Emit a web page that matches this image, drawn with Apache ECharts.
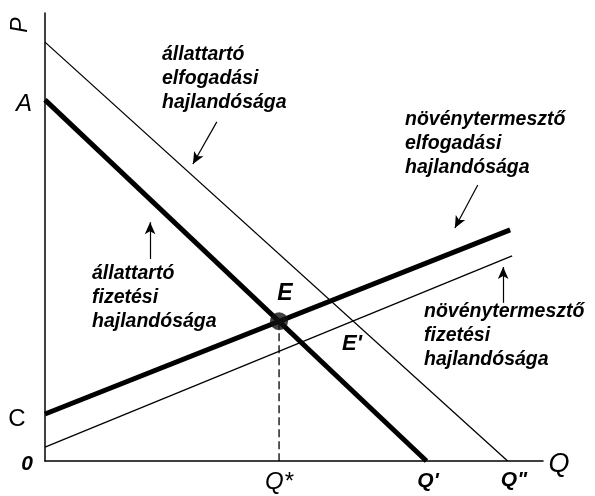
<!DOCTYPE html>
<html>
<head>
<meta charset="utf-8">
<script src="https://cdn.jsdelivr.net/npm/echarts@6/dist/echarts.min.js"></script>
<style>
  html, body { margin: 0; padding: 0; background: #fff; }
  #chart { width: 595px; height: 496px; }
</style>
</head>
<body>
<div id="chart"></div>
<script>
// line endpoints in data units (x: Q, y: P)
var thickDemand = [[0, 8.06], [7.66, 0]];
var thinDemand = [[0, 9.35], [9.29, 0]];
var thickSupply = [[0, 1.05], [9.34, 5.16]];
var thinSupply = [[0, 0.31], [9.38, 4.58]];
var equilibrium = [[4.70, 3.12]];
var qStar = [[4.70, 3.12], [4.70, 0]];

// annotation arrows: [from, to]
var arrows = [
  [[3.45, 7.57], [2.97, 6.63]],
  [[8.69, 6.16], [8.23, 5.20]],
  [[2.11, 4.51], [2.11, 5.33]],
  [[9.20, 3.53], [9.20, 4.33]]
];

var notes = [
  ['állattartó', 'elfogadási', 'hajlandósága'],
  ['növénytermesztő', 'elfogadási', 'hajlandósága'],
  ['állattartó', 'fizetési', 'hajlandósága'],
  ['növénytermesztő', 'fizetési', 'hajlandósága']
];

var chart = echarts.init(document.getElementById('chart'), null, { renderer: 'canvas' });

var noteFont = 'italic bold 19.5px "Liberation Sans", Arial, sans-serif';
var notePos = [[162, 43], [405, 108], [92, 262], [424, 300]];

function lineSeries(data, width) {
  return {
    type: 'line',
    data: data,
    symbol: 'none',
    lineStyle: { color: '#000', width: width },
    silent: true,
    z: 3
  };
}

var graphics = notes.map(function (lines, i) {
  return {
    type: 'text',
    x: notePos[i][0],
    y: notePos[i][1],
    style: {
      text: lines.join('\n'),
      font: noteFont,
      lineHeight: 24,
      fill: '#000',
      align: 'left',
      verticalAlign: 'top'
    }
  };
});

function label(text, x, y, font, rot) {
  return {
    type: 'text',
    x: x,
    y: y,
    rotation: rot || 0,
    style: {
      text: text,
      font: font,
      fill: '#000',
      align: 'center',
      verticalAlign: 'middle'
    }
  };
}

var reg = '"Liberation Sans", Arial, sans-serif';
graphics.push(
  label('P', 21, 25, 'italic 23px ' + reg, Math.PI / 2),
  label('A', 24, 104, 'italic 24px ' + reg),
  label('C', 17, 419, '24px ' + reg),
  label('0', 27, 464, 'italic bold 21px ' + reg),
  label('E', 285, 294, 'italic bold 23px ' + reg),
  label("E'", 352, 344, 'italic bold 22px ' + reg),
  label('Q*', 279, 482, 'italic 24px ' + reg),
  label("Q'", 428, 481, 'italic bold 21px ' + reg),
  label('Q"', 514, 480, 'italic bold 21px ' + reg),
  label('Q', 559, 464, 'italic 27px ' + reg)
);

chart.setOption({
  backgroundColor: '#ffffff',
  animation: false,
  grid: { left: 45, right: 52, top: 13, bottom: 35 },
  xAxis: {
    type: 'value',
    min: 0,
    max: 10,
    axisLine: { show: true, lineStyle: { color: '#000', width: 1.5 } },
    axisTick: { show: false },
    axisLabel: { show: false },
    splitLine: { show: false }
  },
  yAxis: {
    type: 'value',
    min: 0,
    max: 10,
    axisLine: { show: true, lineStyle: { color: '#000', width: 1.5 } },
    axisTick: { show: false },
    axisLabel: { show: false },
    splitLine: { show: false }
  },
  series: [
    lineSeries(thinDemand, 1.3),
    lineSeries(thinSupply, 1.3),
    lineSeries(thickDemand, 5),
    lineSeries(thickSupply, 5),
    {
      type: 'line',
      data: qStar,
      symbol: 'none',
      lineStyle: { color: '#000', width: 1.3, type: [8, 4] },
      silent: true,
      z: 2
    },
    {
      type: 'scatter',
      data: equilibrium,
      symbolSize: 18,
      itemStyle: { color: '#111' },
      silent: true,
      z: 4
    },
    {
      type: 'line',
      data: [],
      markLine: {
        silent: true,
        symbol: ['none', 'arrow'],
        symbolSize: [8, 12],
        label: { show: false },
        lineStyle: { color: '#000', width: 1.2, type: 'solid' },
        data: arrows.map(function (a) {
          return [{ coord: a[0] }, { coord: a[1] }];
        })
      }
    }
  ],
  graphic: graphics
});
</script>
</body>
</html>
